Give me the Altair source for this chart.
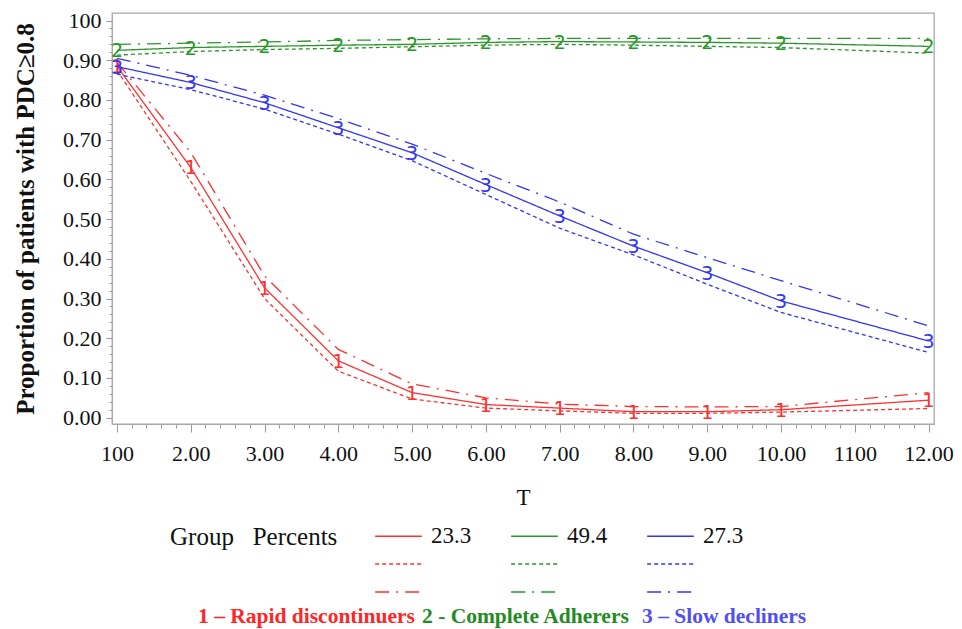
import altair as alt
import pandas as pd

# ---------------- data ----------------
T = [1, 2, 3, 4, 5, 6, 7, 8, 9, 10, 12]
groups = ["1", "2", "3"]
percents = ["23.3", "49.4", "27.3"]

red_est = [0.885, 0.630, 0.327, 0.143, 0.063, 0.033, 0.024, 0.015, 0.015, 0.020, 0.044]
red_lo = [0.875, 0.595, 0.300, 0.117, 0.047, 0.024, 0.017, 0.011, 0.011, 0.014, 0.023]
red_hi = [0.895, 0.668, 0.357, 0.172, 0.085, 0.050, 0.034, 0.028, 0.027, 0.028, 0.063]

green_est = [0.925, 0.932, 0.935, 0.938, 0.940, 0.945, 0.947, 0.946, 0.945, 0.943, 0.935]
green_lo = [0.913, 0.922, 0.927, 0.930, 0.934, 0.938, 0.940, 0.938, 0.935, 0.932, 0.918]
green_hi = [0.940, 0.943, 0.946, 0.950, 0.952, 0.954, 0.955, 0.955, 0.955, 0.955, 0.955]

blue_est = [0.884, 0.844, 0.793, 0.730, 0.667, 0.587, 0.508, 0.432, 0.365, 0.294, 0.193]
blue_lo = [0.865, 0.826, 0.777, 0.714, 0.647, 0.562, 0.477, 0.410, 0.336, 0.265, 0.164]
blue_hi = [0.905, 0.862, 0.812, 0.753, 0.689, 0.615, 0.543, 0.462, 0.403, 0.345, 0.231]

group_colors = ["#ff3030", "#289628", "#3434f5"]
styles = ["s", "d", "c"]          # solid estimate, dashed lower, dash-dot upper
style_dashes = [[1, 0], [4, 3], [14, 7, 2, 7]]

captions = ["1 \u2013 Rapid discontinuers", "2 - Complete Adherers", "3 \u2013 Slow decliners"]
caption_colors = ["#ff2626", "#228b22", "#5050f0"]

# ---------------- tables ----------------
series_vals = {
    "1": [red_est, red_lo, red_hi],
    "2": [green_est, green_lo, green_hi],
    "3": [blue_est, blue_lo, blue_hi],
}
rows = []
for g in groups:
    for st, vals in zip(styles, series_vals[g]):
        for t, v in zip(T, vals):
            rows.append({"T": t, "value": v, "group": g, "series": g + st})
df = pd.DataFrame(rows)
markers = df[df["series"].str.endswith("s")]

keys = [g + st for st in styles for g in groups]
key_colors = [group_colors[groups.index(k[0])] for k in keys]
key_dashes = [style_dashes[styles.index(k[1])] for k in keys]

label_expr = " : ".join(
    f"datum.value == '{g}s' ? '{p}'" for g, p in zip(groups, percents)
) + " : ''"

# ---------------- axes ----------------
x_ticks = [round(1 + 0.2 * k, 1) for k in range(56)]
y_ticks = [round(0.02 * k, 2) for k in range(51)]

x_major = "abs(datum.value - round(datum.value)) < 0.001"
y_major = "abs(datum.value*10 - round(datum.value*10)) < 0.001"

SERIF = "Liberation Serif"

x_axis = alt.Axis(
    values=x_ticks,
    labelExpr=f"{x_major} ? (datum.value == 1 ? '100' : datum.value == 11 ? '1100' : format(datum.value, '.2f')) : ''",
    tickSize={"condition": {"test": x_major, "value": 8}, "value": 4},
    tickColor="#9a9a9a",
    domainColor="#a8a8a8",
    grid=False,
    labelFont=SERIF,
    labelFontSize=22,
    labelColor="#111111",
    labelPadding=11,
    labelOverlap=False,
    labelFlush=False,
    title="T",
    titleFont=SERIF,
    titleFontSize=23,
    titleFontWeight="normal",
    titleColor="#111111",
    titlePadding=22,
)
y_axis = alt.Axis(
    values=y_ticks,
    labelExpr=f"{y_major} ? (datum.value == 1 ? '100' : format(datum.value, '.2f')) : ''",
    tickSize={"condition": {"test": y_major, "value": 6}, "value": 3},
    tickColor="#9a9a9a",
    domainColor="#a8a8a8",
    grid=False,
    labelFont=SERIF,
    labelFontSize=22,
    labelColor="#111111",
    labelPadding=5,
    labelOverlap=False,
    labelFlush=False,
    title="Proportion of patients with PDC\u22650.8",
    titleFont=SERIF,
    titleFontSize=25,
    titleFontWeight="bold",
    titleColor="#111111",
    titlePadding=24.5,
)

x_enc = alt.X("T:Q", scale=alt.Scale(domain=[0.933, 12.073], nice=False, zero=False), axis=x_axis)
y_enc = alt.Y("value:Q", scale=alt.Scale(domain=[-0.016, 1.019], nice=False, zero=False), axis=y_axis)

legend = alt.Legend(
    title="Group\u00a0\u00a0\u00a0Percents",
    orient="none",
    legendX=58,
    legendY=511.5,
    columns=3,
    direction="horizontal",
    symbolType="M-1,0H4",
    symbolSize=349,
    symbolStrokeWidth=1.3,
    labelExpr=label_expr,
    labelFont=SERIF,
    labelFontSize=23,
    labelColor="#111111",
    labelOffset=35,
    columnPadding=36,
    rowPadding=4,
    padding=0,
    titleOrient="left",
    titleAnchor="start",
    titleFont=SERIF,
    titleFontSize=25,
    titleFontWeight="normal",
    titleColor="#111111",
    titlePadding=35,
    titleBaseline="top",
)

color_enc = alt.Color("series:N", scale=alt.Scale(domain=keys, range=key_colors), legend=legend)
dash_enc = alt.StrokeDash("series:N", scale=alt.Scale(domain=keys, range=key_dashes), legend=legend)

lines = alt.Chart(df).mark_line(strokeWidth=1.3).encode(
    x=x_enc, y=y_enc, color=color_enc, strokeDash=dash_enc, detail="series:N"
)

marks = alt.Chart(markers).mark_text(
    font="DejaVu Sans", fontSize=19, fontWeight="normal", baseline="middle", align="center", dy=1
).encode(x=x_enc, y=y_enc, text="group:N", color=color_enc)

caption_x = [86, 310, 530]
caption_layers = []
for txt, col, cx in zip(captions, caption_colors, caption_x):
    caption_layers.append(
        alt.Chart(pd.DataFrame({"t": [txt]})).mark_text(
            align="left", baseline="alphabetic", font=SERIF,
            fontWeight="bold", fontSize=21.5, color=col
        ).encode(x=alt.value(cx), y=alt.value(610), text="t:N")
    )

chart = alt.layer(lines, marks, *caption_layers).properties(
    width=822, height=411,
    padding={"left": 5, "top": 1, "right": 0, "bottom": 0},
    background="white",
).configure_view(stroke="#a8a8a8", strokeWidth=1.3)

chart.save("out.html", embed_options={"renderer": "svg", "actions": False})
